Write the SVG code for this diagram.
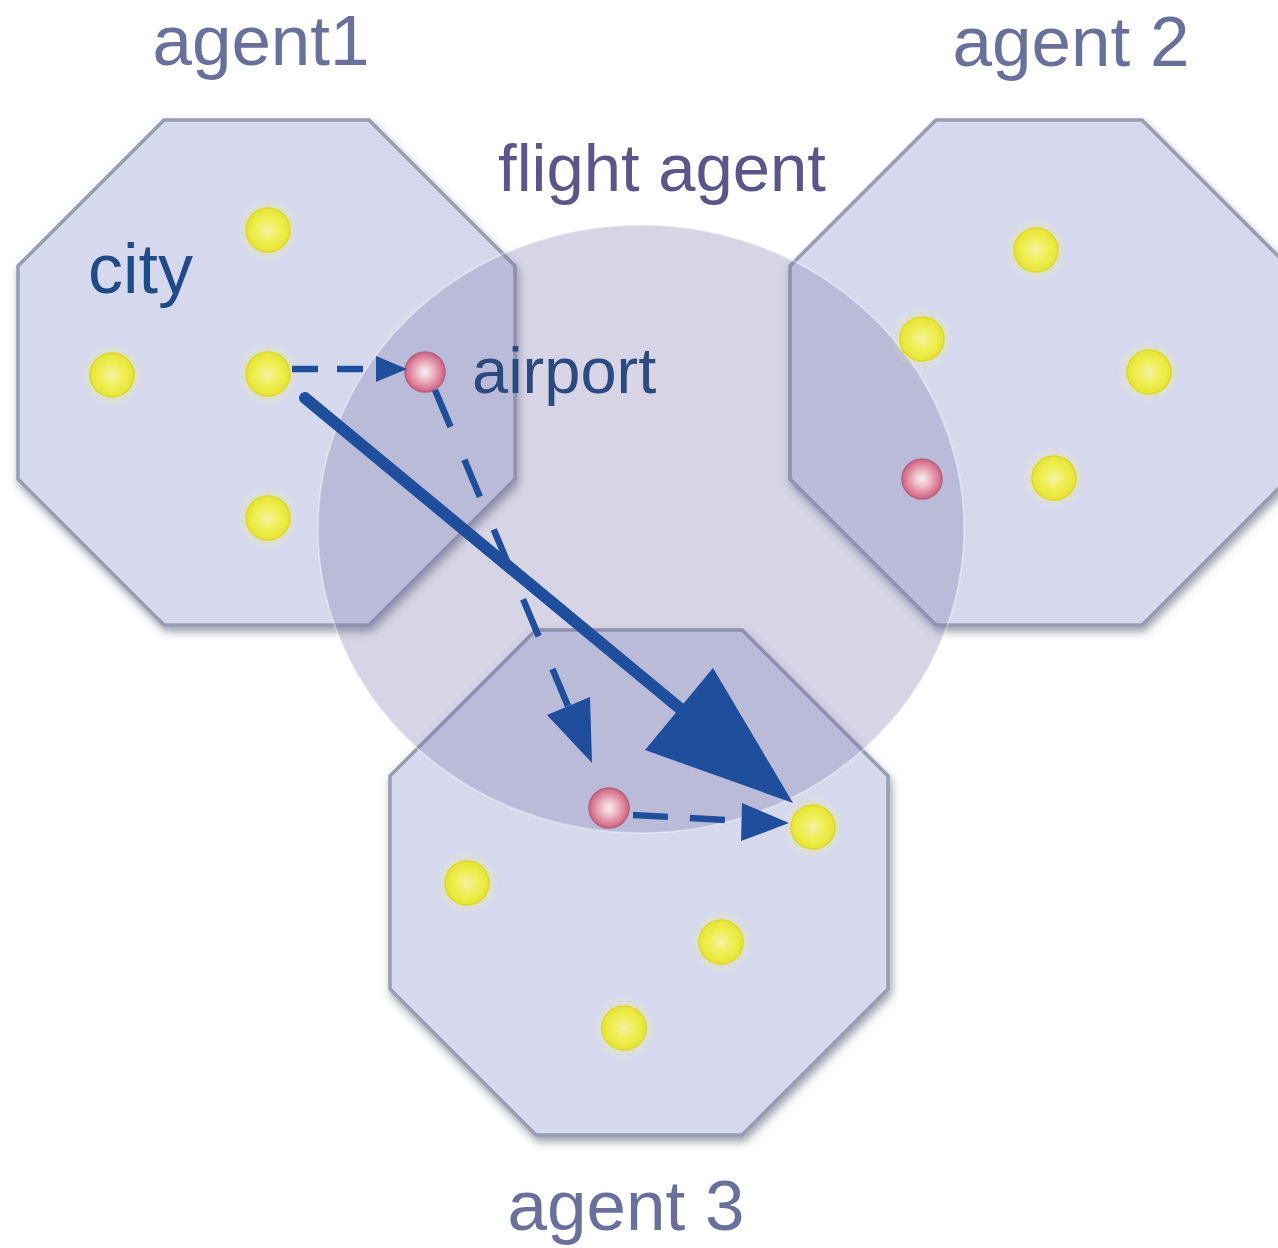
<svg xmlns="http://www.w3.org/2000/svg" width="1278" height="1248" viewBox="0 0 1278 1248">
  <defs>
    <style>
      .oct { fill: #d6d9ee; stroke: #989db3; stroke-width: 3.5; filter: url(#shadow); }
      .zone { fill: rgb(122,116,168); fill-opacity: 0.30; stroke: #ffffff; stroke-opacity: 0.35; stroke-width: 2; }
      .city { fill: url(#gYellow); stroke: #dcd92e; stroke-width: 1.5; }
      .glow { fill: #f4f36a; opacity: 0.35; filter: url(#soft); }
      .port { fill: url(#gPink); stroke: #b85f7e; stroke-width: 1.5; }
      .dash { fill: none; stroke: #1f4f9c; stroke-width: 6.5; }
      .solid { fill: none; stroke: #1f4f9c; stroke-width: 12; stroke-linecap: round; }
      .head { fill: #1f4f9c; }
      .lbl { font-family: "Liberation Sans", Arial, sans-serif; text-anchor: middle; }
      .agent { fill: #6a709c; font-size: 71px; }
      .flight { fill: #5a5689; font-size: 67px; }
      .city-lbl { fill: #1f4b86; font-size: 70px; text-anchor: start; }
      .port-lbl { fill: #2b4a7f; font-size: 65px; text-anchor: start; }
    </style>
    <filter id="shadow" x="-10%" y="-10%" width="120%" height="125%">
      <feGaussianBlur in="SourceAlpha" stdDeviation="4"/>
      <feOffset dx="2" dy="5" result="b"/>
      <feFlood flood-color="#4d526a" flood-opacity="0.55"/>
      <feComposite in2="b" operator="in"/>
      <feMerge><feMergeNode/><feMergeNode in="SourceGraphic"/></feMerge>
    </filter>
    <filter id="soft" x="-50%" y="-50%" width="200%" height="200%">
      <feGaussianBlur stdDeviation="3"/>
    </filter>
    <radialGradient id="gYellow" cx="0.5" cy="0.5" r="0.5">
      <stop offset="0" stop-color="#f5f2a4"/>
      <stop offset="0.55" stop-color="#f0ee52"/>
      <stop offset="1" stop-color="#e6e434"/>
    </radialGradient>
    <radialGradient id="gPink" cx="0.5" cy="0.5" r="0.5">
      <stop offset="0" stop-color="#f4f0f4"/>
      <stop offset="0.35" stop-color="#eec2cc"/>
      <stop offset="0.75" stop-color="#df849c"/>
      <stop offset="1" stop-color="#ca6482"/>
    </radialGradient>
  </defs>

  <rect width="1278" height="1248" fill="#ffffff"/>

  <!-- agent regions -->
  <g id="agent1">
    <polygon class="oct" points="164,120 369,120 515,266 515,479 369,625 164,625 18,479 18,266"/>
  </g>
  <g id="agent2">
    <polygon class="oct" points="936,120 1142,120 1288,266 1288,479 1142,625 936,625 790,479 790,266"/>
  </g>
  <g id="agent3">
    <polygon class="oct" points="536,630 742,630 888,776 888,989 742,1135 536,1135 390,989 390,776"/>
  </g>

  <!-- flight agent coverage -->
  <g id="flight-agent">
    <ellipse class="zone" cx="641" cy="529" rx="323" ry="304"/>
  </g>

  <!-- cities -->
  <g id="cities">
    <g id="c1a"><circle class="glow" cx="268" cy="230" r="26"/><circle class="city" cx="268" cy="230" r="22"/></g>
    <g id="c1b"><circle class="glow" cx="112" cy="375" r="26"/><circle class="city" cx="112" cy="375" r="22"/></g>
    <g id="c1c"><circle class="glow" cx="268" cy="374" r="26"/><circle class="city" cx="268" cy="374" r="22"/></g>
    <g id="c1d"><circle class="glow" cx="268" cy="518" r="26"/><circle class="city" cx="268" cy="518" r="22"/></g>
    <g id="c2a"><circle class="glow" cx="1036" cy="250" r="26"/><circle class="city" cx="1036" cy="250" r="22"/></g>
    <g id="c2b"><circle class="glow" cx="922" cy="339" r="26"/><circle class="city" cx="922" cy="339" r="22"/></g>
    <g id="c2c"><circle class="glow" cx="1149" cy="372" r="26"/><circle class="city" cx="1149" cy="372" r="22"/></g>
    <g id="c2d"><circle class="glow" cx="1054" cy="478" r="26"/><circle class="city" cx="1054" cy="478" r="22"/></g>
    <g id="c3a"><circle class="glow" cx="467" cy="883" r="26"/><circle class="city" cx="467" cy="883" r="22"/></g>
    <g id="c3b"><circle class="glow" cx="721" cy="942" r="26"/><circle class="city" cx="721" cy="942" r="22"/></g>
    <g id="c3c"><circle class="glow" cx="624" cy="1028" r="26"/><circle class="city" cx="624" cy="1028" r="22"/></g>
    <g id="c3d"><circle class="glow" cx="813" cy="827" r="26"/><circle class="city" cx="813" cy="827" r="22"/></g>
  </g>

  <!-- airports -->
  <g id="airports">
    <g id="ap1"><circle class="port" cx="425" cy="372" r="20"/></g>
    <g id="ap2"><circle class="port" cx="922" cy="479" r="20"/></g>
    <g id="ap3"><circle class="port" cx="609" cy="808" r="20"/></g>
  </g>

  <!-- routes -->
  <g id="connectors">
    <line class="dash" x1="292" y1="369" x2="378" y2="369" stroke-dasharray="26 19"/>
    <polygon class="head" points="376,356 407,369 376,382"/>

    <line class="dash" x1="435" y1="390" x2="568" y2="706" stroke-dasharray="40 35.7"/>
    <polygon class="head" points="547,715 590,697 592,763"/>

    <line class="dash" x1="633" y1="815" x2="745" y2="821" stroke-dasharray="35 22"/>
    <polygon class="head" points="742,803 789,823 741,841"/>

    <line class="solid" x1="305" y1="398" x2="700" y2="725"/>
    <polygon class="head" points="645,750 713,668 793,803"/>
  </g>

  <!-- labels -->
  <g id="labels">
    <text class="lbl agent" x="261" y="65">agent1</text>
    <text class="lbl agent" x="1071" y="66">agent 2</text>
    <text class="lbl agent" x="626" y="1230">agent 3</text>
    <text class="lbl flight" x="662" y="191">flight agent</text>
    <text class="lbl city-lbl" x="88" y="293">city</text>
    <text class="lbl port-lbl" x="472" y="393">airport</text>
  </g>
</svg>
